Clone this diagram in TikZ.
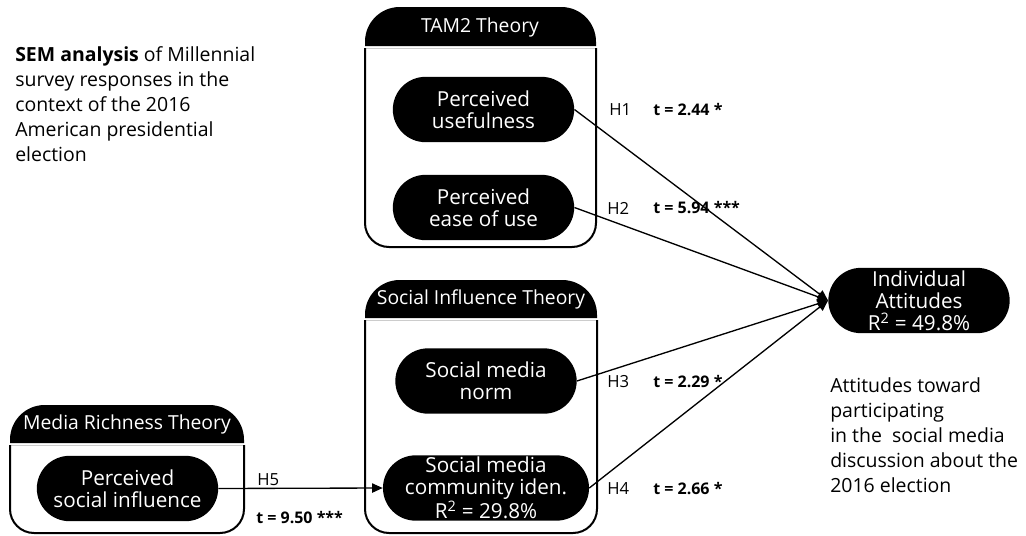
\documentclass[tikz,border=0pt]{standalone}
\usepackage{fontspec}
\setmainfont{Open Sans}
\usetikzlibrary{shapes.misc, arrows.meta, positioning}

\begin{document}
\begin{tikzpicture}[x=0.75pt, y=-0.75pt,
    pill/.style = {rounded rectangle, fill=black, text=white, minimum width=136pt, minimum height=49pt, inner sep=0pt, align=center, font=\fontsize{15.5}{16.5}\selectfont},
    head/.style = {text=white, inner sep=0pt, font=\fontsize{14.5}{16}\selectfont},
    hyp/.style = {anchor=west, inner sep=0pt, font=\fontsize{12.5}{14}\selectfont},
    tval/.style = {anchor=west, inner sep=0pt, font=\fontsize{12}{14}\selectfont\bfseries},
    note/.style = {anchor=north west, inner sep=0pt, align=left, font=\fontsize{14.6}{18.75}\selectfont},
    body/.style = {line width=1.5pt},
    seam/.style = {gray!40, line width=0.6pt},
    link/.style = {line width=1pt, -{Triangle[length=8pt,width=7pt]}}]
      \useasboundingbox (0,0) rectangle (1026,536);

      % theory boxes
      \fill (365,46) [rounded corners=26pt] -- (365,7) -- (596,7) -- (596,46);
      \draw[seam] (365,48) -- (596,48);
      \draw[body] (365,48) [rounded corners=18pt] -- (365,247) -- (596,247) -- (596,48);
      \node[head] (tamhead) at (480,27) {TAM2 Theory};

      \fill (365,318) [rounded corners=26pt] -- (365,280) -- (597,280) -- (597,318);
      \draw[seam] (365,320) -- (597,320);
      \draw[body] (365,320) [rounded corners=18pt] -- (365,533) -- (597,533) -- (597,320);
      \node[head] (sithead) at (481,299) {Social Influence Theory};

      \fill (10,443) [rounded corners=26pt] -- (10,405) -- (244,405) -- (244,443);
      \draw[seam] (10,445) -- (244,445);
      \draw[body] (10,445) [rounded corners=18pt] -- (10,533) -- (244,533) -- (244,445);
      \node[head] (mrthead) at (127,424) {Media Richness Theory};

      % constructs
      \node[pill] (pu)   at (483.5,109.5) {Perceived\\usefulness};
      \node[pill] (peou) at (483.5,207.5) {Perceived\\ease of use};
      \node[pill] (smn)  at (486,381)     {Social media\\norm};
      \node[pill] (smci) at (486,488)     {Social media\\community iden.\\R\textsuperscript{2} = 29.8\%};
      \node[pill] (psi)  at (127.5,488.5) {Perceived\\social influence};
      \node[pill] (ia)   at (919,300.5)   {Individual\\Attitudes\\R\textsuperscript{2} = 49.8\%};

      % paths
      \draw[link] (pu.east)   -- (ia.west);
      \draw[link] (peou.east) -- (ia.west);
      \draw[link] (smn.east)  -- (ia.west);
      \draw[link] (smci.east) -- (ia.west);
      \draw[link] (psi.east)  -- (smci.west);

      \node[hyp]  (h1) at (609,110) {H1};
      \node[tval] (t1) at (653,110) {t = 2.44 *};
      \node[hyp]  (h2) at (607,208) {H2};
      \node[tval] (t2) at (653,208) {t = 5.94 ***};
      \node[hyp]  (h3) at (607,382) {H3};
      \node[tval] (t3) at (653,382) {t = 2.29 *};
      \node[hyp]  (h4) at (607,489) {H4};
      \node[tval] (t4) at (653,489) {t = 2.66 *};
      \node[hyp]  (h5) at (257,480) {H5};
      \node[tval] (t5) at (256,518) {t = 9.50 ***};

      % notes
      \node[note] (semnote) at (15,46) {\textbf{SEM analysis} of Millennial\\survey responses in the\\context of the 2016\\American presidential\\election};
      \node[note] (attnote) at (830,377) {Attitudes toward\\participating\\in the\ \ social media\\discussion about the\\2016 election};
\end{tikzpicture}
\end{document}
